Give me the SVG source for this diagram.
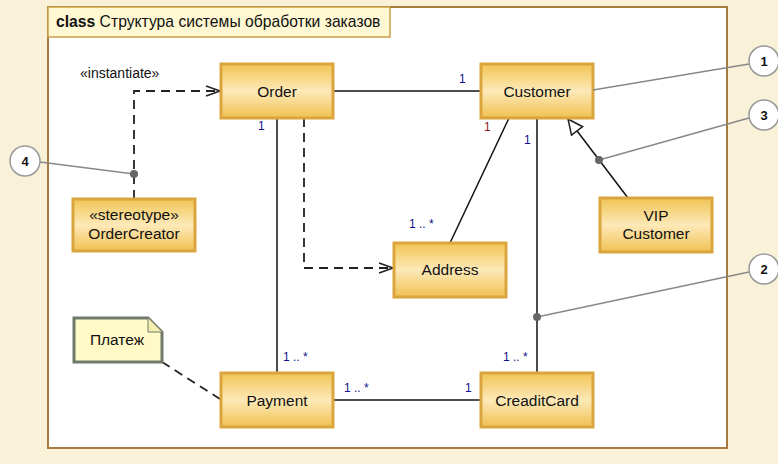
<svg xmlns="http://www.w3.org/2000/svg" width="778" height="464" viewBox="0 0 778 464">
<defs>
<linearGradient id="g" x1="0" y1="0" x2="0" y2="1">
<stop offset="0" stop-color="#F1C554"/>
<stop offset="0.5" stop-color="#FDE9B8"/>
<stop offset="1" stop-color="#F0C152"/>
</linearGradient>
<marker id="open" markerWidth="16" markerHeight="12" refX="15" refY="6" orient="auto" markerUnits="userSpaceOnUse">
<path d="M1,1 L15,6 L1,11" fill="none" stroke="#222" stroke-width="1.5"/>
</marker>
<marker id="tri" markerWidth="18" markerHeight="18" refX="16" refY="8" orient="auto" markerUnits="userSpaceOnUse">
<path d="M1,1 L16,8 L1,15 Z" fill="#fff" stroke="#222" stroke-width="1.5"/>
</marker>
</defs>
<style>
.node{fill:url(#g);stroke:#DBA53E;stroke-width:3}
.lbl{font-family:"Liberation Sans",Arial,sans-serif;font-size:15.5px;fill:#111;text-anchor:middle}
.m{font-family:"Liberation Sans",Arial,sans-serif;font-size:12px;fill:#10108A}
.line{stroke:#111;stroke-width:1.5;fill:none}
.dash{stroke:#222;stroke-width:1.8;fill:none;stroke-dasharray:9,6}
.call{stroke:#888;stroke-width:1.3;fill:none}
.circ{fill:#fff;stroke:#999;stroke-width:1.5}
.num{font-family:"Liberation Sans",Arial,sans-serif;font-size:13px;font-weight:bold;fill:#111;text-anchor:middle}
.dot{fill:#666}
</style>
<rect x="0" y="0" width="778" height="464" fill="#FAF2D8"/>
<rect x="48" y="7" width="679" height="441" fill="#fff" stroke="#A47A3E" stroke-width="2"/>
<g id="title">
<rect x="48" y="7" width="342" height="30" fill="#FFF8D2" stroke="#C9A14A" stroke-width="1.5"/>
<text x="56" y="27" font-family="'Liberation Sans',Arial,sans-serif" font-size="15.7" fill="#111"><tspan font-weight="bold">class</tspan> Структура системы обработки заказов</text>
</g>
<g id="connectors">
<line class="line" x1="333" y1="91" x2="481" y2="91"/>
<line class="line" x1="277" y1="118" x2="277" y2="373"/>
<line class="line" x1="509" y1="118" x2="450" y2="243"/>
<line class="line" x1="537" y1="118" x2="537" y2="373"/>
<line class="line" x1="333" y1="400" x2="481" y2="400"/>
<line class="line" x1="628" y1="198" x2="568" y2="119" marker-end="url(#tri)"/>
<polyline class="dash" points="304,118 304,268 393,268" marker-end="url(#open)"/>
<polyline class="dash" points="134,199 134,91 220,91" marker-end="url(#open)"/>
<line class="dash" x1="162" y1="362" x2="220" y2="399"/>
<text class="m" x="459" y="83">1</text>
<text class="m" x="258" y="130">1</text>
<text class="m" x="283" y="361">1 .. *</text>
<text class="m" x="484" y="131" style="fill:#8B1A1A">1</text>
<text class="m" x="409" y="228">1 .. *</text>
<text class="m" x="524" y="144">1</text>
<text class="m" x="503" y="361">1 .. *</text>
<text class="m" x="344" y="392">1 .. *</text>
<text class="m" x="465" y="392">1</text>
<text x="80" y="78" font-family="'Liberation Sans',Arial,sans-serif" font-size="14" fill="#111">«instantiate»</text>
</g>
<g id="Order"><rect class="node" x="221" y="64" width="112" height="54"/><text class="lbl" x="277" y="97">Order</text></g>
<g id="Customer"><rect class="node" x="481" y="64" width="112" height="54"/><text class="lbl" x="537" y="97">Customer</text></g>
<g id="OrderCreator"><rect class="node" x="73" y="199" width="122" height="52"/><text class="lbl" x="134" y="220">«stereotype»</text><text class="lbl" x="134" y="239">OrderCreator</text></g>
<g id="Address"><rect class="node" x="394" y="243" width="112" height="54"/><text class="lbl" x="450" y="275">Address</text></g>
<g id="VIPCustomer"><rect class="node" x="600" y="198" width="112" height="54"/><text class="lbl" x="656" y="221">VIP</text><text class="lbl" x="656" y="239">Customer</text></g>
<g id="Payment"><rect class="node" x="221" y="373" width="112" height="54"/><text class="lbl" x="277" y="406">Payment</text></g>
<g id="CreaditCard"><rect class="node" x="481" y="373" width="112" height="54"/><text class="lbl" x="537" y="406">CreaditCard</text></g>
<g id="note"><path d="M74,318 L148,318 L162,332 L162,362 L74,362 Z" fill="#FFFAC6" stroke="#6F7A6C" stroke-width="3"/><path d="M148,318 L148,332 L162,332" fill="#F5EDB0" stroke="#6F7A6C" stroke-width="1"/><text class="lbl" x="117" y="345">Платеж</text></g>
<g id="callout1"><line class="call" x1="593" y1="90" x2="749" y2="64"/><circle class="circ" cx="764" cy="61" r="15"/><text class="num" x="764" y="66">1</text></g>
<g id="callout3"><line class="call" x1="599" y1="160" x2="749" y2="118"/><circle class="dot" cx="599" cy="160" r="4"/><circle class="circ" cx="764" cy="115" r="15"/><text class="num" x="764" y="120">3</text></g>
<g id="callout2"><line class="call" x1="537" y1="317" x2="749" y2="272"/><circle class="dot" cx="537" cy="317" r="4"/><circle class="circ" cx="764" cy="269" r="15"/><text class="num" x="764" y="274">2</text></g>
<g id="callout4"><line class="call" x1="134" y1="174" x2="40" y2="162"/><circle class="dot" cx="134" cy="174" r="4"/><circle class="circ" cx="25" cy="161" r="15"/><text class="num" x="25" y="166">4</text></g>
</svg>
